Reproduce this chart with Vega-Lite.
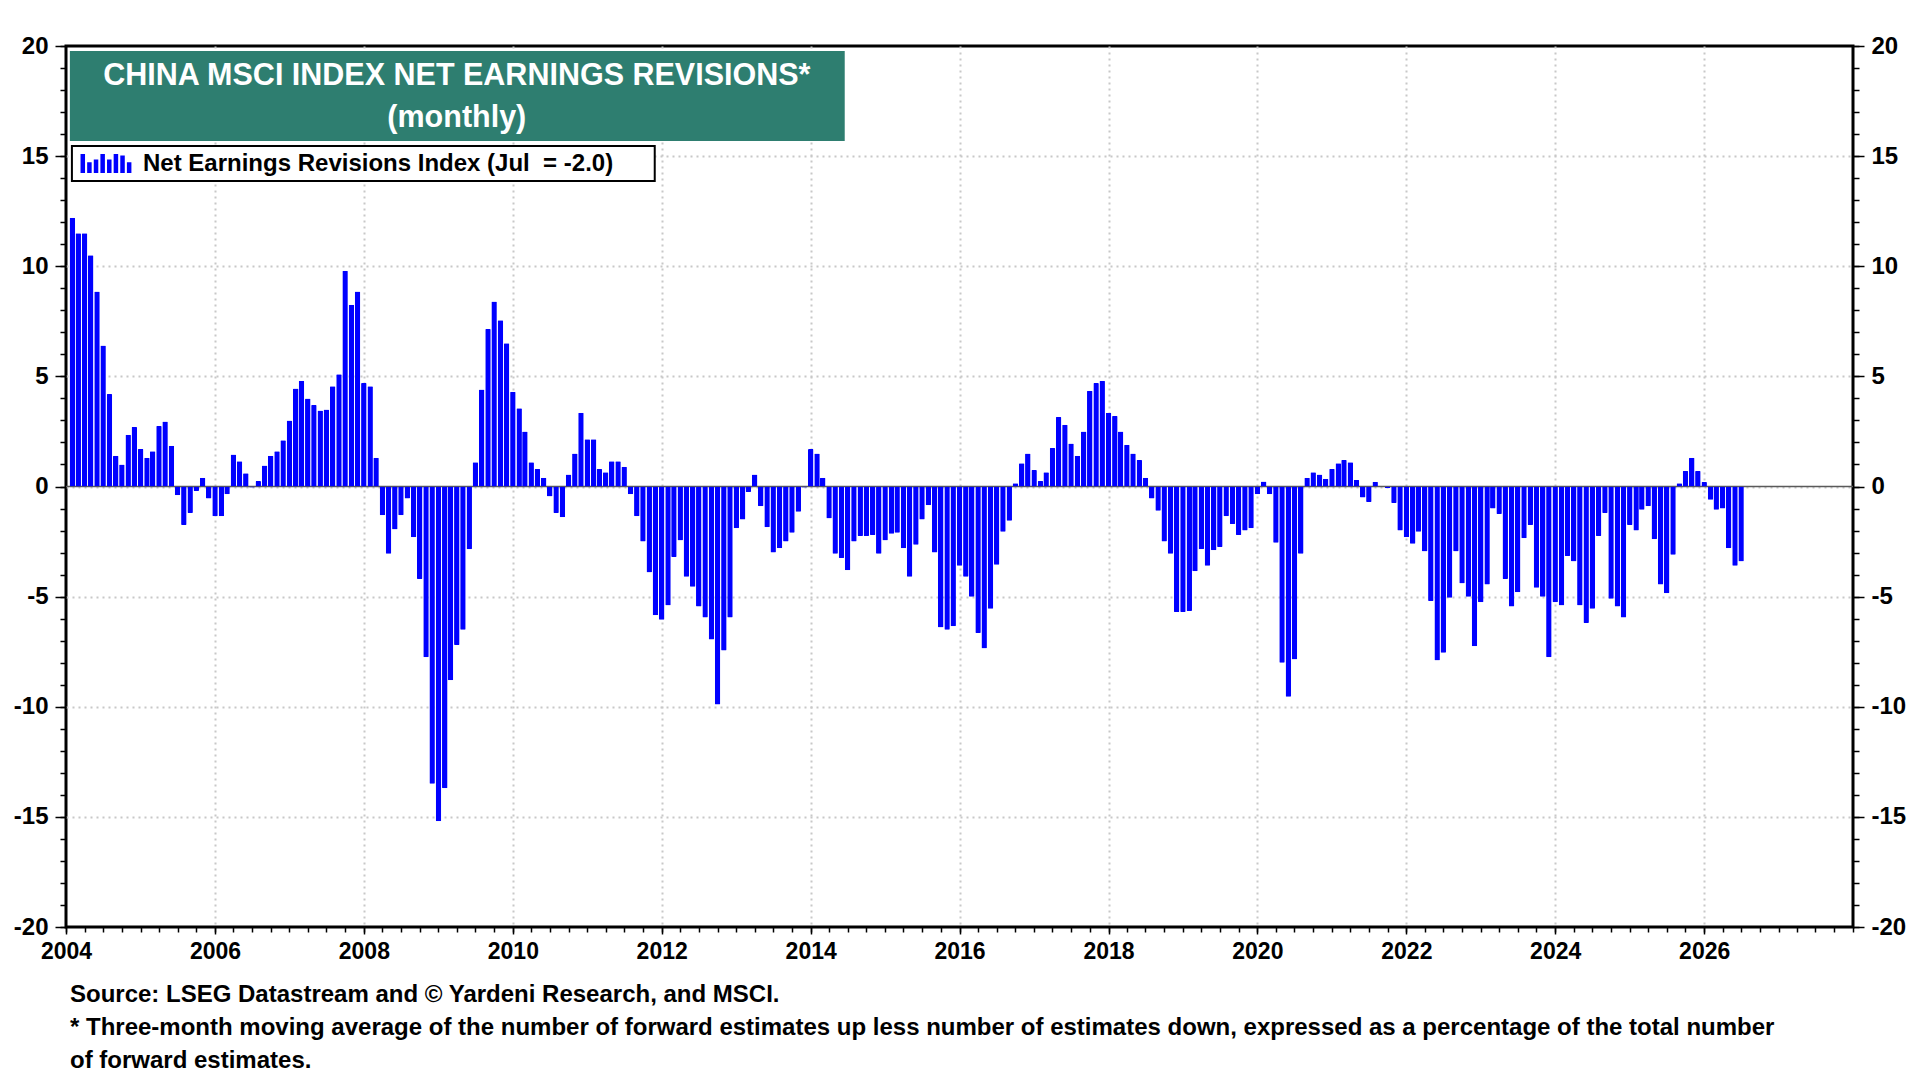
{
  "$schema": "https://vega.github.io/schema/vega-lite/v6.json",
  "width": 1787,
  "height": 881,
  "autosize": {"type": "none"},
  "padding": {"left": 66, "top": 46, "right": 67, "bottom": 153},
  "background": "#ffffff",
  "title": {
    "text": ["Source: LSEG Datastream and © Yardeni Research, and MSCI.", "* Three-month moving average of the number of forward estimates up less number of estimates down, expressed as a percentage of the total number", "\u00a0of forward estimates."],
    "orient": "bottom",
    "anchor": "start",
    "frame": "group",
    "font": "Liberation Sans",
    "fontSize": 24,
    "fontWeight": "bold",
    "color": "#000000",
    "lineHeight": 33,
    "baseline": "top",
    "offset": 20,
    "dx": 4
  },
  "datasets": {
    "nri": [
      {"d": "2004-02-01", "v": 12.2}, {"d": "2004-03-01", "v": 11.5}, {"d": "2004-04-01", "v": 11.5}, {"d": "2004-05-01", "v": 10.5}, {"d": "2004-06-01", "v": 8.85}, {"d": "2004-07-01", "v": 6.4}, {"d": "2004-08-01", "v": 4.2}, {"d": "2004-09-01", "v": 1.4}, {"d": "2004-10-01", "v": 1.0}, {"d": "2004-11-01", "v": 2.35}, {"d": "2004-12-01", "v": 2.7},
      {"d": "2005-01-01", "v": 1.7}, {"d": "2005-02-01", "v": 1.3}, {"d": "2005-03-01", "v": 1.6}, {"d": "2005-04-01", "v": 2.75}, {"d": "2005-05-01", "v": 2.95}, {"d": "2005-06-01", "v": 1.85}, {"d": "2005-07-01", "v": -0.4}, {"d": "2005-08-01", "v": -1.75}, {"d": "2005-09-01", "v": -1.2}, {"d": "2005-10-01", "v": -0.2}, {"d": "2005-11-01", "v": 0.4}, {"d": "2005-12-01", "v": -0.55},
      {"d": "2006-01-01", "v": -1.35}, {"d": "2006-02-01", "v": -1.35}, {"d": "2006-03-01", "v": -0.35}, {"d": "2006-04-01", "v": 1.45}, {"d": "2006-05-01", "v": 1.15}, {"d": "2006-06-01", "v": 0.6}, {"d": "2006-07-01", "v": -0.05}, {"d": "2006-08-01", "v": 0.25}, {"d": "2006-09-01", "v": 0.95}, {"d": "2006-10-01", "v": 1.4}, {"d": "2006-11-01", "v": 1.6}, {"d": "2006-12-01", "v": 2.1},
      {"d": "2007-01-01", "v": 3.0}, {"d": "2007-02-01", "v": 4.45}, {"d": "2007-03-01", "v": 4.8}, {"d": "2007-04-01", "v": 4.0}, {"d": "2007-05-01", "v": 3.7}, {"d": "2007-06-01", "v": 3.45}, {"d": "2007-07-01", "v": 3.5}, {"d": "2007-08-01", "v": 4.55}, {"d": "2007-09-01", "v": 5.1}, {"d": "2007-10-01", "v": 9.8}, {"d": "2007-11-01", "v": 8.25}, {"d": "2007-12-01", "v": 8.85},
      {"d": "2008-01-01", "v": 4.7}, {"d": "2008-02-01", "v": 4.55}, {"d": "2008-03-01", "v": 1.3}, {"d": "2008-04-01", "v": -1.3}, {"d": "2008-05-01", "v": -3.05}, {"d": "2008-06-01", "v": -1.95}, {"d": "2008-07-01", "v": -1.3}, {"d": "2008-08-01", "v": -0.55}, {"d": "2008-09-01", "v": -2.3}, {"d": "2008-10-01", "v": -4.2}, {"d": "2008-11-01", "v": -7.75}, {"d": "2008-12-01", "v": -13.5},
      {"d": "2009-01-01", "v": -15.2}, {"d": "2009-02-01", "v": -13.7}, {"d": "2009-03-01", "v": -8.8}, {"d": "2009-04-01", "v": -7.2}, {"d": "2009-05-01", "v": -6.5}, {"d": "2009-06-01", "v": -2.85}, {"d": "2009-07-01", "v": 1.1}, {"d": "2009-08-01", "v": 4.4}, {"d": "2009-09-01", "v": 7.15}, {"d": "2009-10-01", "v": 8.4}, {"d": "2009-11-01", "v": 7.55}, {"d": "2009-12-01", "v": 6.5},
      {"d": "2010-01-01", "v": 4.3}, {"d": "2010-02-01", "v": 3.55}, {"d": "2010-03-01", "v": 2.5}, {"d": "2010-04-01", "v": 1.1}, {"d": "2010-05-01", "v": 0.8}, {"d": "2010-06-01", "v": 0.4}, {"d": "2010-07-01", "v": -0.45}, {"d": "2010-08-01", "v": -1.2}, {"d": "2010-09-01", "v": -1.4}, {"d": "2010-10-01", "v": 0.55}, {"d": "2010-11-01", "v": 1.5}, {"d": "2010-12-01", "v": 3.35},
      {"d": "2011-01-01", "v": 2.15}, {"d": "2011-02-01", "v": 2.15}, {"d": "2011-03-01", "v": 0.8}, {"d": "2011-04-01", "v": 0.65}, {"d": "2011-05-01", "v": 1.15}, {"d": "2011-06-01", "v": 1.15}, {"d": "2011-07-01", "v": 0.9}, {"d": "2011-08-01", "v": -0.35}, {"d": "2011-09-01", "v": -1.35}, {"d": "2011-10-01", "v": -2.5}, {"d": "2011-11-01", "v": -3.9}, {"d": "2011-12-01", "v": -5.85},
      {"d": "2012-01-01", "v": -6.05}, {"d": "2012-02-01", "v": -5.4}, {"d": "2012-03-01", "v": -3.2}, {"d": "2012-04-01", "v": -2.45}, {"d": "2012-05-01", "v": -4.1}, {"d": "2012-06-01", "v": -4.55}, {"d": "2012-07-01", "v": -5.45}, {"d": "2012-08-01", "v": -5.95}, {"d": "2012-09-01", "v": -6.95}, {"d": "2012-10-01", "v": -9.9}, {"d": "2012-11-01", "v": -7.45}, {"d": "2012-12-01", "v": -5.95},
      {"d": "2013-01-01", "v": -1.9}, {"d": "2013-02-01", "v": -1.5}, {"d": "2013-03-01", "v": -0.25}, {"d": "2013-04-01", "v": 0.55}, {"d": "2013-05-01", "v": -0.9}, {"d": "2013-06-01", "v": -1.85}, {"d": "2013-07-01", "v": -3.0}, {"d": "2013-08-01", "v": -2.8}, {"d": "2013-09-01", "v": -2.5}, {"d": "2013-10-01", "v": -2.1}, {"d": "2013-11-01", "v": -1.15}, {"d": "2013-12-01", "v": -0.05},
      {"d": "2014-01-01", "v": 1.7}, {"d": "2014-02-01", "v": 1.5}, {"d": "2014-03-01", "v": 0.4}, {"d": "2014-04-01", "v": -1.45}, {"d": "2014-05-01", "v": -3.05}, {"d": "2014-06-01", "v": -3.25}, {"d": "2014-07-01", "v": -3.8}, {"d": "2014-08-01", "v": -2.5}, {"d": "2014-09-01", "v": -2.25}, {"d": "2014-10-01", "v": -2.25}, {"d": "2014-11-01", "v": -2.2}, {"d": "2014-12-01", "v": -3.05},
      {"d": "2015-01-01", "v": -2.45}, {"d": "2015-02-01", "v": -2.15}, {"d": "2015-03-01", "v": -2.1}, {"d": "2015-04-01", "v": -2.8}, {"d": "2015-05-01", "v": -4.1}, {"d": "2015-06-01", "v": -2.65}, {"d": "2015-07-01", "v": -1.5}, {"d": "2015-08-01", "v": -0.85}, {"d": "2015-09-01", "v": -3.0}, {"d": "2015-10-01", "v": -6.4}, {"d": "2015-11-01", "v": -6.5}, {"d": "2015-12-01", "v": -6.35},
      {"d": "2016-01-01", "v": -3.6}, {"d": "2016-02-01", "v": -4.1}, {"d": "2016-03-01", "v": -5.0}, {"d": "2016-04-01", "v": -6.65}, {"d": "2016-05-01", "v": -7.35}, {"d": "2016-06-01", "v": -5.55}, {"d": "2016-07-01", "v": -3.55}, {"d": "2016-08-01", "v": -2.05}, {"d": "2016-09-01", "v": -1.55}, {"d": "2016-10-01", "v": 0.15}, {"d": "2016-11-01", "v": 1.05}, {"d": "2016-12-01", "v": 1.5},
      {"d": "2017-01-01", "v": 0.75}, {"d": "2017-02-01", "v": 0.25}, {"d": "2017-03-01", "v": 0.65}, {"d": "2017-04-01", "v": 1.75}, {"d": "2017-05-01", "v": 3.15}, {"d": "2017-06-01", "v": 2.8}, {"d": "2017-07-01", "v": 1.95}, {"d": "2017-08-01", "v": 1.4}, {"d": "2017-09-01", "v": 2.5}, {"d": "2017-10-01", "v": 4.35}, {"d": "2017-11-01", "v": 4.7}, {"d": "2017-12-01", "v": 4.8},
      {"d": "2018-01-01", "v": 3.35}, {"d": "2018-02-01", "v": 3.2}, {"d": "2018-03-01", "v": 2.5}, {"d": "2018-04-01", "v": 1.9}, {"d": "2018-05-01", "v": 1.5}, {"d": "2018-06-01", "v": 1.2}, {"d": "2018-07-01", "v": 0.4}, {"d": "2018-08-01", "v": -0.55}, {"d": "2018-09-01", "v": -1.1}, {"d": "2018-10-01", "v": -2.5}, {"d": "2018-11-01", "v": -3.05}, {"d": "2018-12-01", "v": -5.7},
      {"d": "2019-01-01", "v": -5.7}, {"d": "2019-02-01", "v": -5.65}, {"d": "2019-03-01", "v": -3.85}, {"d": "2019-04-01", "v": -2.85}, {"d": "2019-05-01", "v": -3.6}, {"d": "2019-06-01", "v": -2.9}, {"d": "2019-07-01", "v": -2.75}, {"d": "2019-08-01", "v": -1.35}, {"d": "2019-09-01", "v": -1.7}, {"d": "2019-10-01", "v": -2.2}, {"d": "2019-11-01", "v": -2.0}, {"d": "2019-12-01", "v": -1.9},
      {"d": "2020-01-01", "v": -0.35}, {"d": "2020-02-01", "v": 0.23}, {"d": "2020-03-01", "v": -0.35}, {"d": "2020-04-01", "v": -2.55}, {"d": "2020-05-01", "v": -8.0}, {"d": "2020-06-01", "v": -9.55}, {"d": "2020-07-01", "v": -7.85}, {"d": "2020-08-01", "v": -3.05}, {"d": "2020-09-01", "v": 0.4}, {"d": "2020-10-01", "v": 0.65}, {"d": "2020-11-01", "v": 0.55}, {"d": "2020-12-01", "v": 0.35},
      {"d": "2021-01-01", "v": 0.8}, {"d": "2021-02-01", "v": 1.05}, {"d": "2021-03-01", "v": 1.2}, {"d": "2021-04-01", "v": 1.1}, {"d": "2021-05-01", "v": 0.3}, {"d": "2021-06-01", "v": -0.5}, {"d": "2021-07-01", "v": -0.7}, {"d": "2021-08-01", "v": 0.22}, {"d": "2021-09-01", "v": 0.0}, {"d": "2021-10-01", "v": -0.08}, {"d": "2021-11-01", "v": -0.75}, {"d": "2021-12-01", "v": -2.0},
      {"d": "2022-01-01", "v": -2.3}, {"d": "2022-02-01", "v": -2.6}, {"d": "2022-03-01", "v": -2.05}, {"d": "2022-04-01", "v": -2.95}, {"d": "2022-05-01", "v": -5.2}, {"d": "2022-06-01", "v": -7.9}, {"d": "2022-07-01", "v": -7.55}, {"d": "2022-08-01", "v": -5.05}, {"d": "2022-09-01", "v": -2.95}, {"d": "2022-10-01", "v": -4.4}, {"d": "2022-11-01", "v": -5.0}, {"d": "2022-12-01", "v": -7.25},
      {"d": "2023-01-01", "v": -5.25}, {"d": "2023-02-01", "v": -4.45}, {"d": "2023-03-01", "v": -1.0}, {"d": "2023-04-01", "v": -1.25}, {"d": "2023-05-01", "v": -4.2}, {"d": "2023-06-01", "v": -5.45}, {"d": "2023-07-01", "v": -4.8}, {"d": "2023-08-01", "v": -2.35}, {"d": "2023-09-01", "v": -1.75}, {"d": "2023-10-01", "v": -4.6}, {"d": "2023-11-01", "v": -5.0}, {"d": "2023-12-01", "v": -7.75},
      {"d": "2024-01-01", "v": -5.25}, {"d": "2024-02-01", "v": -5.4}, {"d": "2024-03-01", "v": -3.15}, {"d": "2024-04-01", "v": -3.4}, {"d": "2024-05-01", "v": -5.4}, {"d": "2024-06-01", "v": -6.2}, {"d": "2024-07-01", "v": -5.55}, {"d": "2024-08-01", "v": -2.25}, {"d": "2024-09-01", "v": -1.2}, {"d": "2024-10-01", "v": -5.1}, {"d": "2024-11-01", "v": -5.45}, {"d": "2024-12-01", "v": -5.95},
      {"d": "2025-01-01", "v": -1.75}, {"d": "2025-02-01", "v": -2.0}, {"d": "2025-03-01", "v": -1.05}, {"d": "2025-04-01", "v": -0.9}, {"d": "2025-05-01", "v": -2.4}, {"d": "2025-06-01", "v": -4.45}, {"d": "2025-07-01", "v": -4.85}, {"d": "2025-08-01", "v": -3.1}, {"d": "2025-09-01", "v": 0.15}, {"d": "2025-10-01", "v": 0.7}, {"d": "2025-11-01", "v": 1.3}, {"d": "2025-12-01", "v": 0.7},
      {"d": "2026-01-01", "v": 0.2}, {"d": "2026-02-01", "v": -0.6}, {"d": "2026-03-01", "v": -1.05}, {"d": "2026-04-01", "v": -1.0}, {"d": "2026-05-01", "v": -2.8}, {"d": "2026-06-01", "v": -3.6}, {"d": "2026-07-01", "v": -3.4}
    ]
  },
  "layer": [
    {
      "data": {"values": [{}]},
      "mark": {"type": "rule", "color": "#5a5a5a", "strokeWidth": 1.5},
      "encoding": {
        "y": {
          "datum": 0,
          "type": "quantitative",
          "axis": {"orient": "right", "title": null, "values": [-20, -15, -10, -5, 0, 5, 10, 15, 20], "labelExpr": "toString(datum.value)", "tickSize": 11, "labelPadding": 7, "grid": false, "labelFontSize": 24}
        }
      }
    },
    {
      "data": {"name": "nri"},
      "mark": {"type": "bar", "size": 5.5, "cornerRadius": 1, "color": "#0000ff"},
      "encoding": {
        "x": {
          "field": "d",
          "type": "temporal",
          "scale": {"type": "utc", "padding": 0, "domain": [{"year": 2004, "month": 1, "date": 1, "utc": true}, {"year": 2028, "month": 1, "date": 1, "utc": true}]},
          "axis": {
            "orient": "bottom",
            "title": null,
            "format": "%Y",
            "values": [{"year": 2004, "utc": true}, {"year": 2006, "utc": true}, {"year": 2008, "utc": true}, {"year": 2010, "utc": true}, {"year": 2012, "utc": true}, {"year": 2014, "utc": true}, {"year": 2016, "utc": true}, {"year": 2018, "utc": true}, {"year": 2020, "utc": true}, {"year": 2022, "utc": true}, {"year": 2024, "utc": true}, {"year": 2026, "utc": true}],
            "tickSize": 7,
            "labelPadding": 6,
            "labelFontSize": 23,
            "grid": true,
            "gridOpacity": {"condition": {"test": "utcyear(datum.value) > 2004", "value": 1}, "value": 0}
          }
        },
        "y": {
          "field": "v",
          "type": "quantitative",
          "scale": {"domain": [-20, 20], "nice": false, "zero": false, "padding": 0},
          "axis": {
            "orient": "left", "title": null, "values": [-20, -15, -10, -5, 0, 5, 10, 15, 20], "labelExpr": "toString(datum.value)", "tickSize": 11, "labelPadding": 7, "grid": true, "labelFontSize": 24,
            "gridOpacity": {"condition": {"test": "abs(datum.value) < 20", "value": 1}, "value": 0}
          }
        },
        "color": {
          "datum": "Net Earnings Revisions Index (Jul\u00a0 = -2.0)",
          "scale": {"range": ["#0000ff"]},
          "legend": {
            "orient": "none",
            "legendX": 14,
            "legendY": 91,
            "title": null,
            "padding": 0,
            "symbolType": "M-0.98,0.36V-0.36H-0.81V0.36Z M-0.73,0.36V-0.05H-0.56V0.36Z M-0.48,0.36V-0.15H-0.31V0.36Z M-0.23,0.36V-0.36H-0.06V0.36Z M0.02,0.36V-0.15H0.19V0.36Z M0.27,0.36V-0.36H0.44V0.36Z M0.52,0.36V-0.3H0.69V0.36Z M0.77,0.36V-0.05H0.94V0.36Z",
            "symbolSize": 2809,
            "symbolStrokeWidth": 0,
            "labelFont": "Liberation Sans",
            "labelFontSize": 24,
            "labelFontWeight": "bold",
            "labelColor": "#000000",
            "labelOffset": 10,
            "labelLimit": 900
          }
        }
      }
    },
    {
      "data": {"values": [{}]},
      "mark": {"type": "rect", "color": "#2e7e70"},
      "encoding": {
        "x": {
          "datum": {"year": 2004, "month": 1, "date": 20, "utc": true},
          "type": "temporal",
          "axis": {"orient": "bottom", "title": null, "tickCount": {"interval": "month", "step": 3}, "tickSize": 5, "labels": false, "grid": false}
        },
        "x2": {"datum": {"year": 2014, "month": 6, "date": 17, "utc": true}},
        "y": {
          "datum": 19.77,
          "type": "quantitative",
          "axis": {"orient": "left", "title": null, "values": [-20, -19, -18, -17, -16, -15, -14, -13, -12, -11, -10, -9, -8, -7, -6, -5, -4, -3, -2, -1, 0, 1, 2, 3, 4, 5, 6, 7, 8, 9, 10, 11, 12, 13, 14, 15, 16, 17, 18, 19, 20], "tickSize": 6, "labels": false, "grid": false}
        },
        "y2": {"datum": 15.69}
      }
    },
    {
      "data": {"values": [{}]},
      "mark": {"type": "rect", "fill": "#ffffff", "stroke": "#000000", "strokeWidth": 2},
      "encoding": {
        "x": {"datum": {"year": 2004, "month": 1, "date": 30, "utc": true}, "type": "temporal", "axis": null},
        "x2": {"datum": {"year": 2011, "month": 11, "date": 28, "utc": true}},
        "y": {
          "datum": 15.46,
          "type": "quantitative",
          "axis": {"orient": "right", "title": null, "values": [-20, -19, -18, -17, -16, -15, -14, -13, -12, -11, -10, -9, -8, -7, -6, -5, -4, -3, -2, -1, 0, 1, 2, 3, 4, 5, 6, 7, 8, 9, 10, 11, 12, 13, 14, 15, 16, 17, 18, 19, 20], "tickSize": 6, "labels": false, "grid": false}
        },
        "y2": {"datum": 13.87}
      }
    },
    {
      "data": {"values": [{}]},
      "mark": {"type": "text", "text": "CHINA MSCI INDEX NET EARNINGS REVISIONS*", "font": "Liberation Sans", "fontSize": 30.5, "fontWeight": "bold", "color": "#ffffff", "align": "center", "baseline": "middle"},
      "encoding": {
        "x": {"datum": {"year": 2009, "month": 4, "date": 1, "utc": true}, "type": "temporal", "axis": null},
        "y": {"datum": 18.66, "type": "quantitative", "axis": null}
      }
    },
    {
      "data": {"values": [{}]},
      "mark": {"type": "text", "text": "(monthly)", "font": "Liberation Sans", "fontSize": 30.5, "fontWeight": "bold", "color": "#ffffff", "align": "center", "baseline": "middle"},
      "encoding": {
        "x": {"datum": {"year": 2009, "month": 4, "date": 1, "utc": true}, "type": "temporal", "axis": null},
        "y": {"datum": 16.72, "type": "quantitative", "axis": null}
      }
    }
  ],
  "resolve": {"axis": {"x": "independent", "y": "independent"}},
  "config": {
    "view": {"stroke": "#000000", "strokeWidth": 3},
    "axis": {
      "domain": false,
      "labelFont": "Liberation Sans",
      "labelFontWeight": "bold",
      "labelColor": "#000000",
      "tickColor": "#000000",
      "tickWidth": 1.5,
      "labelFlush": false,
      "labelOverlap": false,
      "labelBound": false,
      "gridColor": "#c8c8c8",
      "gridDash": [2, 4],
      "gridWidth": 2
    }
  }
}
